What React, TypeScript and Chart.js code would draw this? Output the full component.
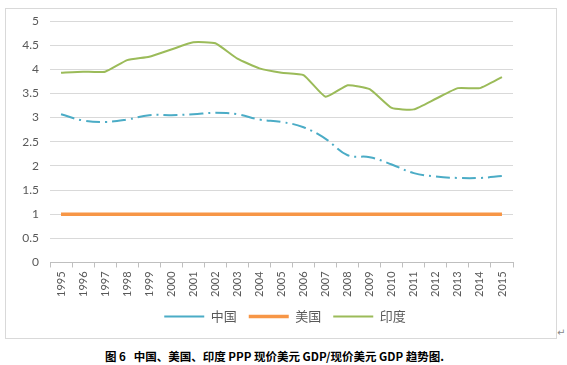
import React, { useEffect, useRef } from "react";
import { Chart, registerables } from "chart.js";

Chart.register(...registerables);

const years = ["1995","1996","1997","1998","1999","2000","2001","2002","2003","2004","2005","2006","2007","2008","2009","2010","2011","2012","2013","2014","2015"];
const china = [3.07,2.94,2.91,2.96,3.05,3.05,3.07,3.10,3.07,2.96,2.91,2.80,2.56,2.22,2.18,2.03,1.85,1.78,1.75,1.75,1.79];
const usa = [1,1,1,1,1,1,1,1,1,1,1,1,1,1,1,1,1,1,1,1,1];
const india = [3.93,3.95,3.95,4.19,4.26,4.41,4.56,4.54,4.22,4.02,3.93,3.88,3.43,3.67,3.59,3.20,3.17,3.39,3.61,3.61,3.84];
const seriesNames = ["中国", "美国", "印度"];
const caption = "图 6\u00a0\u00a0 中国、美国、印度 PPP 现价美元 GDP/现价美元 GDP 趋势图.";

const tickColor = "#595959";
const gridColor = "#D9D9D9";

export default function App() {
  const ref = useRef<HTMLCanvasElement | null>(null);
  useEffect(() => {
    if (!ref.current) return;
    const chart = new Chart(ref.current, {
      type: "line",
      data: {
        labels: years,
        datasets: [
          { label: seriesNames[0], data: china, borderColor: "#4BACC6", backgroundColor: "#4BACC6", borderWidth: 2, borderDash: [14, 5, 2, 5], tension: 0.4, pointRadius: 0, borderCapStyle: "butt" },
          { label: seriesNames[1], data: usa, borderColor: "#F79646", backgroundColor: "#F79646", borderWidth: 3.5, tension: 0, pointRadius: 0 },
          { label: seriesNames[2], data: india, borderColor: "#9BBB59", backgroundColor: "#9BBB59", borderWidth: 2, tension: 0.15, pointRadius: 0 },
        ],
      },
      options: {
        animation: false,
        responsive: false,
        maintainAspectRatio: false,
        devicePixelRatio: 1,
        layout: { padding: { left: 8, right: 0, top: 12, bottom: 5 } },
        plugins: {
          tooltip: { enabled: false },
          legend: {
            position: "bottom",
            labels: {
              usePointStyle: true,
              pointStyle: "line",
              pointStyleWidth: 40,
              boxHeight: 13,
              padding: 12,
              color: tickColor,
              font: { family: "'Noto Sans CJK SC', 'Noto Sans', sans-serif", size: 13 },
            },
          },
        },
        scales: {
          x: {
            offset: true,
            afterFit: (s: any) => { s.height -= 3; },
            grid: { display: true, drawOnChartArea: false, drawTicks: true, tickLength: 5, offset: true, color: "#BFBFBF" },
            border: { display: true, color: "#BFBFBF" },
            ticks: {
              color: tickColor,
              minRotation: 90,
              maxRotation: 90,
              autoSkip: false,
              padding: 4,
              font: { family: "Lato, 'Noto Sans', sans-serif", size: 11 },
            },
          },
          y: {
            min: 0,
            max: 5,
            afterFit: (s: any) => { s.width = 36; s.paddingTop = 0; s.paddingBottom = 0; },
            grid: { color: gridColor, drawTicks: false },
            border: { display: false },
            ticks: {
              stepSize: 0.5,
              padding: 11,
              color: tickColor,
              font: { family: "Lato, 'Noto Sans', sans-serif", size: 12 },
              callback: (v: any) => String(Number(v)),
            },
          },
          y2: {
            position: "right",
            display: true,
            afterFit: (s: any) => { s.width = 43; s.paddingTop = 0; s.paddingBottom = 0; },
            grid: { display: false, drawOnChartArea: false },
            border: { display: false },
            ticks: { display: false },
          },
        },
      },
    });
    return () => chart.destroy();
  }, []);

  return (
    <div style={{ position: "absolute", left: 0, top: 0, width: 567, height: 365, background: "#fff" }}>
      <div style={{ position: "absolute", left: 5, top: 8, width: 550, height: 329, border: "1px solid #D9D9D9" }}>
        <canvas ref={ref} width={550} height={329} style={{ display: "block" }} />
      </div>
      <div style={{ position: "absolute", left: 557, top: 327, fontSize: 10, color: "#888", fontFamily: "'DejaVu Sans', sans-serif" }}>↵</div>
      <div style={{ position: "absolute", left: 105, top: 349, whiteSpace: "pre", fontSize: 11.5, fontWeight: 700, color: "#000", fontFamily: "'Noto Sans CJK SC', sans-serif", lineHeight: "15px" }}>{caption}</div>
    </div>
  );
}
